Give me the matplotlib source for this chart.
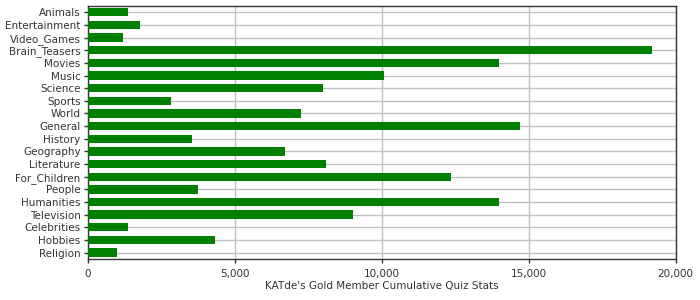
import matplotlib
matplotlib.use('Agg')
import matplotlib.pyplot as plt
from matplotlib.ticker import FuncFormatter

categories = ['Animals', 'Entertainment', 'Video_Games', 'Brain_Teasers', 'Movies',
              'Music', 'Science', 'Sports', 'World', 'General', 'History',
              'Geography', 'Literature', 'For_Children', 'People', 'Humanities',
              'Television', 'Celebrities', 'Hobbies', 'Religion']
values = [1380, 1780, 1210, 19200, 14000,
          10100, 8020, 2840, 7270, 14700, 3550,
          6720, 8120, 12370, 3760, 14000,
          9040, 1380, 4340, 1000]
x_ticks = [0, 5000, 10000, 15000, 20000]
x_label = "KATde's Gold Member Cumulative Quiz Stats"

TEXT = '#333333'
GRID = '#c0c0c0'

plt.rcParams['font.family'] = ['DejaVu Sans']

fig = plt.figure(figsize=(7, 3), dpi=100)
ax = fig.add_axes([0.125, 0.137, 0.84, 0.843])

pos = list(range(len(categories)))
ax.barh(pos, values, height=0.66, color='#008000', zorder=3)

ax.set_ylim(len(categories) - 0.5, -0.5)
ax.set_xlim(0, 20000)
ax.set_yticks(pos)
ax.set_yticklabels(categories)
ax.set_xticks(x_ticks)
ax.xaxis.set_major_formatter(FuncFormatter(lambda v, _: '{:,}'.format(int(v))))
ax.set_xlabel(x_label, fontsize=7.5, color=TEXT, labelpad=2)

ax.grid(True, color=GRID, linewidth=1, zorder=0)
ax.set_axisbelow(True)
ax.tick_params(axis='both', labelsize=7.5, colors=TEXT, length=3, width=1, pad=2)
ax.tick_params(axis='x', pad=4)
for sp in ax.spines.values():
    sp.set_color(TEXT)
    sp.set_linewidth(1)

plt.savefig('out.png', dpi=100)
